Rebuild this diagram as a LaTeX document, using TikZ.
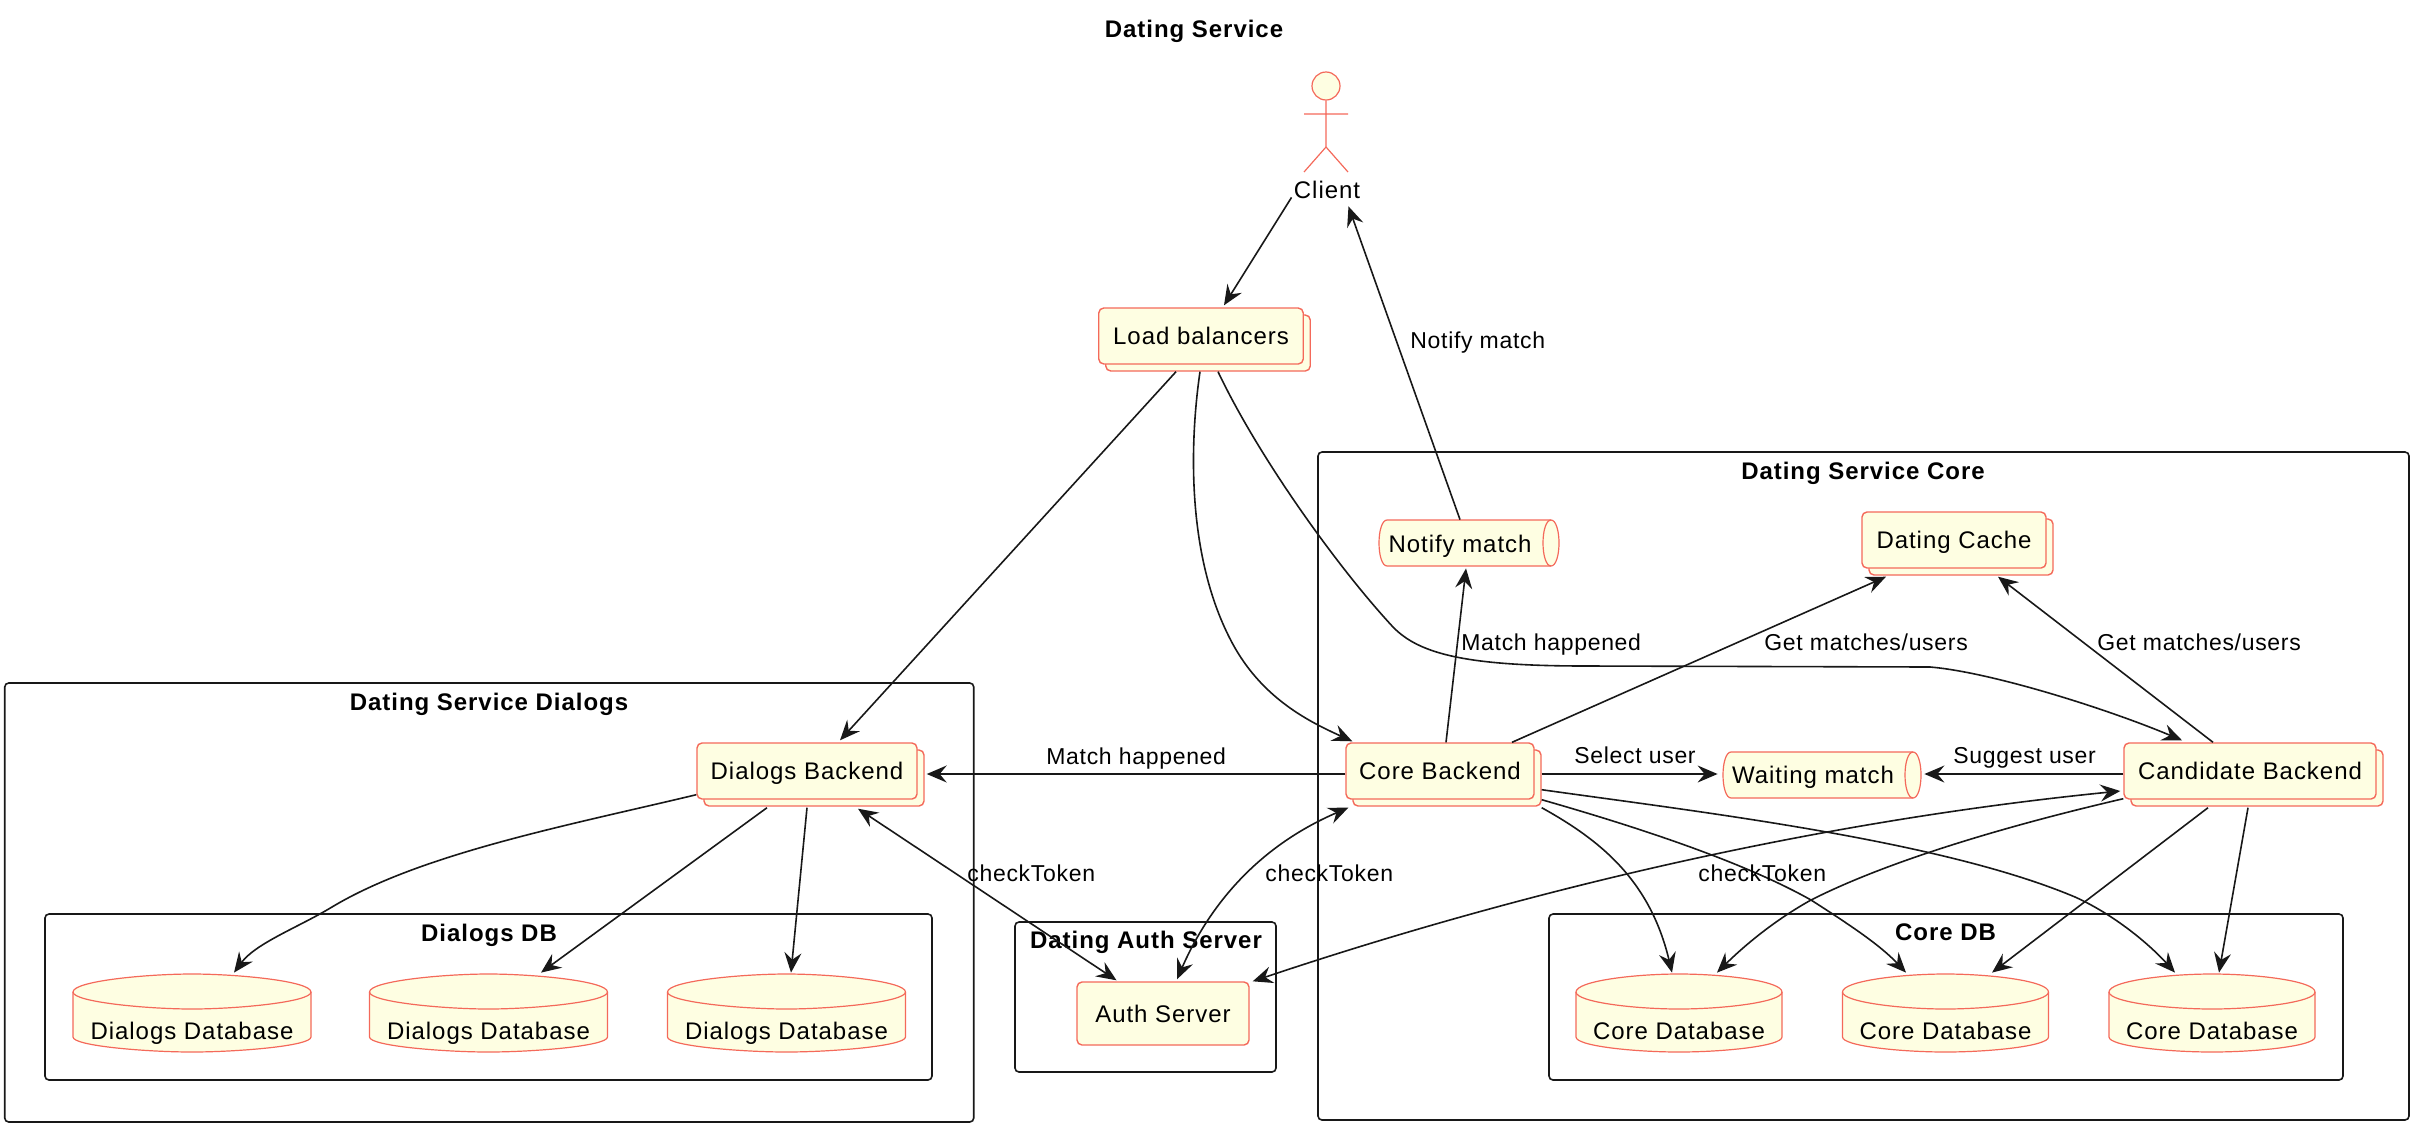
\documentclass[tikz,border=0pt]{standalone}
\usepackage{fontspec}
\setmainfont{Liberation Sans}
\newfontfamily\boxfont[LetterSpace=4]{Liberation Sans}
\newfontfamily\edgefont[LetterSpace=3]{Liberation Sans}
\newfontfamily\headfont[LetterSpace=4,BoldFont={Liberation Sans Bold}]{Liberation Sans}
\usetikzlibrary{shadows,arrows.meta}
\definecolor{boxfill}{HTML}{FEFEE2}
\definecolor{boxline}{HTML}{F4695A}
\definecolor{wireline}{HTML}{181818}
\tikzset{% looks of the picture
        wire/.style={draw=wireline, line width=0.8pt, -{Stealth[length=10pt,width=8.5pt,inset=3.5pt]}},
        twoway/.style={wire, {Stealth[length=10pt,width=8.5pt,inset=3.5pt]}-{Stealth[length=10pt,width=8.5pt,inset=3.5pt]}},
        boxtext/.style={font=\boxfont\fontsize{12}{14}\selectfont, text=black, inner sep=0pt},
        plainbox/.style={boxtext, draw=boxline, fill=boxfill, line width=0.7pt, rounded corners=2.5pt,
                         text height=10pt, text depth=2pt, minimum height=28pt},
        stackbox/.style={plainbox, copy shadow={shadow xshift=3.5pt, shadow yshift=-3.5pt, fill=boxfill, draw=boxline}},
        queuetext/.style={boxtext, text height=11pt, text depth=2pt, minimum width=#1, minimum height=23pt},
        dbtext/.style={boxtext, text height=28pt, text depth=2pt, minimum width=#1, minimum height=39pt},
        bodyline/.style={draw=boxline, fill=boxfill, line width=0.6pt},
        groupbox/.style={draw=wireline, line width=0.8pt, rounded corners=2pt, inner sep=0pt},
        grouptitle/.style={font=\headfont\bfseries\fontsize{12}{14}\selectfont, text=black, anchor=base, inner sep=0pt},
        edgetext/.style={font=\edgefont\fontsize{11.5}{14}\selectfont, text=black, anchor=base west, inner sep=0pt}
        }

\begin{document}
\begin{tikzpicture}[x=0.5pt,y=-0.5pt]
\useasboundingbox (0,0) rectangle (2420,1130);

\node [grouptitle] (title) at (1194,37) {Dating Service};

% the groups
\node [groupbox, minimum width=484.5pt, minimum height=219.5pt] (dialogsgroup) at (489.25,902.5) {};
\node [groupbox, minimum width=443.5pt, minimum height=83pt] (dialogsdbgroup) at (488.5,997) {};
\node [groupbox, minimum width=130.5pt, minimum height=75pt] (authgroup) at (1145.5,997) {};
\node [groupbox, minimum width=545.5pt, minimum height=334pt] (coregroup) at (1863.5,786) {};
\node [groupbox, minimum width=397pt, minimum height=83pt] (coredbgroup) at (1946,997) {};
\node [grouptitle] (dialogstitle) at (489,710) {Dating Service Dialogs};
\node [grouptitle] (dialogsdbtitle) at (489,941) {Dialogs DB};
\node [grouptitle] (authtitle) at (1146,948) {Dating Auth Server};
\node [grouptitle] (coretitle) at (1863,479) {Dating Service Core};
\node [grouptitle] (coredbtitle) at (1945.5,940) {Core DB};

% the client
\node [circle, bodyline, minimum size=14pt, inner sep=0pt] (head) at (1326,86) {};
\coordinate (hip) at (1326,147);
\coordinate (handl) at (1304,114);
\coordinate (handr) at (1348,114);
\coordinate (footl) at (1304,172);
\coordinate (footr) at (1348,172);
\draw [boxline, line width=0.6pt] (head) -- (hip) (handl) -- (handr) (footl) -- (hip) -- (footr);
\node [boxtext, text height=10pt, text depth=2pt] (client) at (1327,190) {Client};

% boxes
\node [stackbox, minimum width=102.25pt] (balancers) at (1201,336) {Load balancers};
\node [stackbox, minimum width=92pt] (cache) at (1954,540) {Dating Cache};
\node [stackbox, minimum width=94pt] (corebackend) at (1440,771) {Core Backend};
\node [stackbox, minimum width=126pt] (candidate) at (2250,771) {Candidate Backend};
\node [stackbox, minimum width=110pt] (dialogsbackend) at (807,771) {Dialogs Backend};
\node [plainbox, minimum width=86pt, minimum height=31.5pt, text height=11pt] (auth) at (1163,1013.5) {Auth Server};

% queues
\foreach \qx/\qy/\qw in {1379/520/180, 1723/752/198} {
  \draw [bodyline, shift={(\qx,\qy)}] (8,0) -- (\qw-8,0)
    .. controls (\qw-3,0) and (\qw,11) .. (\qw,23)
    .. controls (\qw,35) and (\qw-3,46) .. (\qw-8,46) -- (8,46)
    .. controls (3,46) and (0,35) .. (0,23)
    .. controls (0,11) and (3,0) .. (8,0) -- cycle;
  \draw [boxline, line width=0.6pt, shift={(\qx,\qy)}] (\qw-8,0)
    .. controls (\qw-13,0) and (\qw-16,11) .. (\qw-16,23)
    .. controls (\qw-16,35) and (\qw-13,46) .. (\qw-8,46);
}
\node [queuetext=81.5pt] (notify) at (1460,543) {Notify match};
\node [queuetext=90pt] (waiting) at (1813,774) {Waiting match};

% databases
\foreach \dbname/\dbx/\dbw/\dbtxt in {dialogsa/192/119/Dialogs Database, dialogsb/488.5/119/Dialogs Database, dialogsc/786.5/119/Dialogs Database,
                                      corea/1679/103/Core Database, coreb/1945.5/103/Core Database, corec/2212/103/Core Database} {
  \draw [bodyline, shift={(\dbx,0)}] (-\dbw,992)
    .. controls (-\dbw,981) and (-45,974) .. (0,974)
    .. controls (45,974) and (\dbw,981) .. (\dbw,992) -- (\dbw,1037)
    .. controls (\dbw,1046) and (45,1052) .. (0,1052)
    .. controls (-45,1052) and (-\dbw,1046) .. (-\dbw,1037) -- cycle;
  \draw [boxline, line width=0.6pt, shift={(\dbx,0)}] (-\dbw,992)
    .. controls (-\dbw,1002) and (-45,1009) .. (0,1009)
    .. controls (45,1009) and (\dbw,1002) .. (\dbw,992);
  \node [dbtext=\dbw pt] (\dbname) at (\dbx,1013) {\dbtxt};
}

% connectors
\draw [wire] ([shift={(-1pt,2.5pt)}]client.south west) -- ([shift={(11.5pt,1pt)}]balancers.north);
\draw [wire] (notify.north) -- ([shift={(-6pt,-2pt)}]client.south east);
\draw [wire] ([xshift=3pt]corebackend.north) -- ([shift={(3pt,-1pt)}]notify.south);
\draw [wire] ([xshift=36pt]corebackend.north) -- ([shift={(-34pt,-4pt)}]cache.south);
\draw [wire] ([xshift=-18.5pt]candidate.north) -- ([shift={(22pt,-4pt)}]cache.south);
\draw [wire] ([shift={(8.5pt,-3.5pt)}]balancers.south)
  .. controls (1260,460) and (1340,570) .. (1393,627)
  .. controls (1420,655) and (1470,666) .. (1586,666)
  -- (1930,667)
  .. controls (1990,672) and (2105,708) .. ([shift={(-34pt,1pt)}]candidate.north);
\draw [wire] ([shift={(-12.5pt,-3.5pt)}]balancers.south) -- ([shift={(16.5pt,1pt)}]dialogsbackend.north);
\draw [wire] ([shift={(-0.5pt,-3.5pt)}]balancers.south)
  .. controls (1190,440) and (1185,560) .. (1235,648)
  .. controls (1265,700) and (1310,722) .. ([shift={(3.5pt,0.5pt)}]corebackend.north west);
\draw [wire] ([shift={(3.5pt,-1.5pt)}]corebackend.east) -- ([xshift=-2.5pt]waiting.west);
\draw [wire] ([yshift=-1.5pt]candidate.west) -- ([xshift=10.5pt]waiting.east);
\draw [wire] ([yshift=-1.5pt]corebackend.west) -- ([shift={(4.5pt,-1.5pt)}]dialogsbackend.east);
\draw [wire] ([shift={(3.5pt,5pt)}]corebackend.south east)
  .. controls (1700,812) and (1940,840) .. (2075,897)
  .. controls (2115,915) and (2150,945) .. ([shift={(-18.5pt,0.5pt)}]corec.north);
\draw [wire] ([xshift=3.5pt]corebackend.south east)
  .. controls (1630,825) and (1740,860) .. (1811,900)
  .. controls (1850,925) and (1880,945) .. ([shift={(-19.75pt,0.5pt)}]coreb.north);
\draw [wire] ([shift={(3.5pt,-4pt)}]corebackend.south east)
  .. controls (1600,840) and (1650,880) .. ([shift={(-3.5pt,0.5pt)}]corea.north);
\draw [wire] ([yshift=0.5pt]candidate.south west)
  .. controls (2010,825) and (1890,860) .. (1811,900)
  .. controls (1775,920) and (1745,945) .. ([shift={(19pt,0.5pt)}]corea.north);
\draw [wire] ([shift={(-21pt,-4pt)}]candidate.south) -- ([shift={(23.25pt,0.5pt)}]coreb.north);
\draw [wire] ([shift={(-1pt,-4pt)}]candidate.south) -- ([shift={(3.5pt,0.5pt)}]corec.north);
\draw [twoway] ([xshift=1.5pt]auth.north east)
  .. controls (1480,905) and (1780,825) .. ([shift={(-1.5pt,-10pt)}]candidate.west);
\draw [twoway] ([shift={(7pt,1pt)}]auth.north)
  .. controls (1205,915) and (1250,850) .. ([shift={(1.5pt,-4pt)}]corebackend.south west);
\draw [twoway] ([shift={(25.5pt,-4.5pt)}]dialogsbackend.south) -- ([shift={(-23.25pt,0.5pt)}]auth.north);
\draw [wire] ([yshift=2.5pt]dialogsbackend.south west)
  .. controls (570,825) and (422,853) .. (332,907)
  .. controls (299,927) and (256,943) .. ([shift={(21pt,0.5pt)}]dialogsa.north);
\draw [wire] ([shift={(-20pt,-4pt)}]dialogsbackend.south) -- ([shift={(26.25pt,0.5pt)}]dialogsb.north);
\draw [wire] ([yshift=-4pt]dialogsbackend.south) -- ([shift={(2.25pt,0.5pt)}]dialogsc.north);

% labels
\node [edgetext] (lnotify) at (1410,348) {Notify match};
\node [edgetext] (lmatcha) at (1461,650) {Match happened};
\node [edgetext] (lgeta) at (1764,650) {Get matches/users};
\node [edgetext] (lgetb) at (2097,650) {Get matches/users};
\node [edgetext] (lselect) at (1574,763) {Select user};
\node [edgetext] (lsuggest) at (1953,763) {Suggest user};
\node [edgetext] (lmatchb) at (1046,764) {Match happened};
\node [edgetext] (lchecka) at (967,881) {checkToken};
\node [edgetext] (lcheckb) at (1265,881) {checkToken};
\node [edgetext] (lcheckc) at (1698,881) {checkToken};
\end{tikzpicture}
\end{document}
